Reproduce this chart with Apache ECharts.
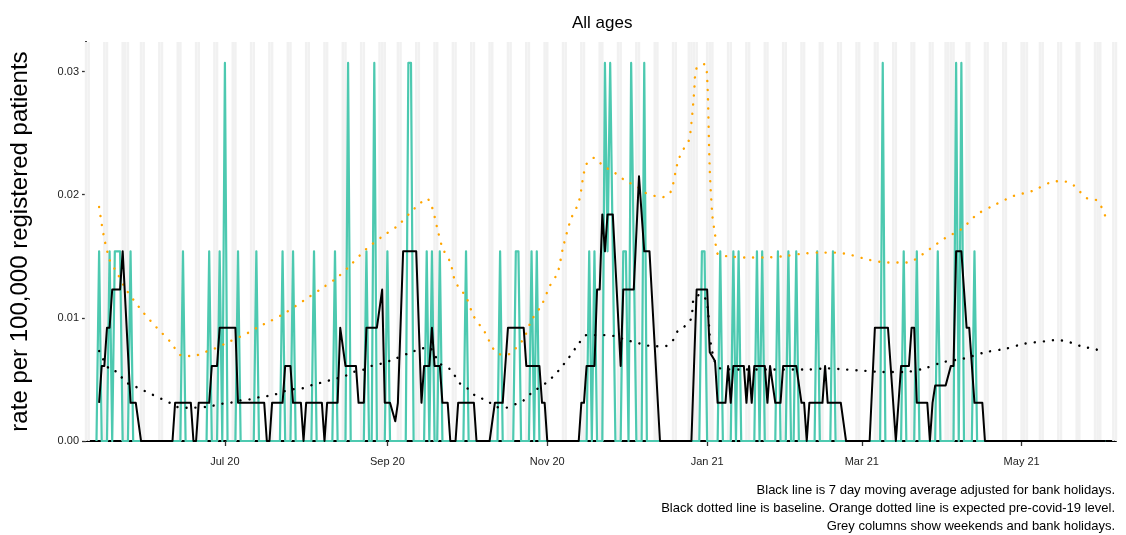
<!DOCTYPE html>
<html>
<head>
<meta charset="utf-8">
<title>All ages</title>
<script src="https://cdn.jsdelivr.net/npm/echarts@6/dist/echarts.min.js"></script>
<style>
  html, body { margin: 0; padding: 0; background: #fff; }
  #chart { width: 1126px; height: 535px; }
</style>
</head>
<body>
<div id="chart"></div>
<script>
// x axis runs over these days, ticks on the first of every other month
const axisStart = '2020-05-09'
const axisEnd = '2021-06-06'
const tickDays = ['2020-07-01', '2020-09-01', '2020-11-01', '2021-01-01', '2021-03-01', '2021-05-01']
const yTicks = [0, 0.01, 0.02, 0.03]
const yMax = 0.0324

// grey columns: weekends plus these bank holidays
const bankHolidays = ['2020-05-25', '2020-08-31', '2020-12-25', '2020-12-28', '2021-01-01',
  '2021-04-02', '2021-04-05', '2021-05-03', '2021-05-31']

// daily rate (teal), days not listed are 0
const dailyStart = '2020-05-13'
const dailyEnd = '2021-06-02'
const dailyRate = [
  ['2020-05-14', 0.0154], ['2020-05-18', 0.0154], ['2020-05-20', 0.0154], ['2020-05-21', 0.0154],
  ['2020-05-22', 0.0154], ['2020-05-26', 0.0154], ['2020-06-15', 0.0154], ['2020-06-25', 0.0154],
  ['2020-06-29', 0.0154], ['2020-07-01', 0.0307], ['2020-07-06', 0.0154], ['2020-07-13', 0.0154],
  ['2020-07-23', 0.0154], ['2020-07-27', 0.0154], ['2020-08-04', 0.0154], ['2020-08-12', 0.0154],
  ['2020-08-17', 0.0307], ['2020-08-24', 0.0154], ['2020-08-27', 0.0307], ['2020-09-01', 0.0154],
  ['2020-09-09', 0.0307], ['2020-09-10', 0.0307], ['2020-09-16', 0.0154], ['2020-09-18', 0.0154],
  ['2020-09-21', 0.0154], ['2020-10-01', 0.0154], ['2020-10-14', 0.0154], ['2020-10-20', 0.0154],
  ['2020-10-21', 0.0154], ['2020-10-26', 0.0154], ['2020-10-28', 0.0154], ['2020-11-17', 0.0154],
  ['2020-11-19', 0.0154], ['2020-11-23', 0.0307], ['2020-11-24', 0.0154], ['2020-11-25', 0.0307],
  ['2020-11-26', 0.0154], ['2020-11-30', 0.0154], ['2020-12-01', 0.0154], ['2020-12-03', 0.0307],
  ['2020-12-04', 0.0154], ['2020-12-08', 0.0307], ['2020-12-30', 0.0154], ['2020-12-31', 0.0154],
  ['2021-01-06', 0.0154], ['2021-01-11', 0.0154], ['2021-01-13', 0.0154], ['2021-01-20', 0.0154],
  ['2021-01-22', 0.0154], ['2021-01-28', 0.0154], ['2021-02-01', 0.0154], ['2021-02-04', 0.0154],
  ['2021-02-12', 0.0154], ['2021-02-18', 0.0154], ['2021-03-09', 0.0307], ['2021-03-17', 0.0154],
  ['2021-03-22', 0.0154], ['2021-03-30', 0.0154], ['2021-04-06', 0.0307], ['2021-04-08', 0.0307],
  ['2021-04-13', 0.0154]
]

// 7 day moving average (black), read where the line bends
const movingAvg = [
  ['2020-05-14', 0.0031], ['2020-05-15', 0.0061], ['2020-05-16', 0.0061], ['2020-05-17', 0.0092],
  ['2020-05-18', 0.0092], ['2020-05-19', 0.0123], ['2020-05-22', 0.0123], ['2020-05-23', 0.0154],
  ['2020-05-26', 0.0031], ['2020-05-28', 0.0031], ['2020-05-30', 0], ['2020-06-11', 0],
  ['2020-06-12', 0.0031], ['2020-06-18', 0.0031], ['2020-06-19', 0], ['2020-06-20', 0],
  ['2020-06-21', 0.0031], ['2020-06-25', 0.0031], ['2020-06-26', 0.0061], ['2020-06-28', 0.0061],
  ['2020-06-29', 0.0092], ['2020-07-05', 0.0092], ['2020-07-06', 0.0031], ['2020-07-16', 0.0031],
  ['2020-07-17', 0], ['2020-07-18', 0], ['2020-07-19', 0.0031], ['2020-07-23', 0.0031],
  ['2020-07-24', 0.0061], ['2020-07-26', 0.0061], ['2020-07-27', 0.0031], ['2020-07-30', 0.0031],
  ['2020-07-31', 0], ['2020-08-01', 0.0031], ['2020-08-07', 0.0031], ['2020-08-08', 0],
  ['2020-08-09', 0.0031], ['2020-08-13', 0.0031], ['2020-08-14', 0.0092], ['2020-08-16', 0.0061],
  ['2020-08-20', 0.0061], ['2020-08-21', 0.0031], ['2020-08-23', 0.0031], ['2020-08-24', 0.0092],
  ['2020-08-28', 0.0092], ['2020-08-30', 0.0123], ['2020-08-31', 0.0031], ['2020-09-02', 0.0031],
  ['2020-09-04', 0.0016], ['2020-09-05', 0.0031], ['2020-09-07', 0.0154], ['2020-09-12', 0.0154],
  ['2020-09-14', 0.0031], ['2020-09-15', 0.0061], ['2020-09-17', 0.0061], ['2020-09-18', 0.0092],
  ['2020-09-19', 0.0061], ['2020-09-21', 0.0061], ['2020-09-22', 0.0031], ['2020-09-24', 0.0031],
  ['2020-09-25', 0], ['2020-09-27', 0], ['2020-09-28', 0.0031], ['2020-10-04', 0.0031],
  ['2020-10-05', 0], ['2020-10-10', 0], ['2020-10-12', 0.0031], ['2020-10-15', 0.0031],
  ['2020-10-17', 0.0092], ['2020-10-23', 0.0092], ['2020-10-24', 0.0061], ['2020-10-29', 0.0061],
  ['2020-10-30', 0.0031], ['2020-10-31', 0.0031], ['2020-11-01', 0], ['2020-11-13', 0],
  ['2020-11-14', 0.0031], ['2020-11-15', 0.0031], ['2020-11-16', 0.0061], ['2020-11-19', 0.0061],
  ['2020-11-20', 0.0123], ['2020-11-21', 0.0123], ['2020-11-22', 0.0184], ['2020-11-23', 0.0154],
  ['2020-11-24', 0.0184], ['2020-11-26', 0.0184], ['2020-11-29', 0.0061], ['2020-11-30', 0.0123],
  ['2020-12-04', 0.0123], ['2020-12-06', 0.0215], ['2020-12-08', 0.0154], ['2020-12-10', 0.0154],
  ['2020-12-14', 0], ['2020-12-26', 0], ['2020-12-28', 0.0123], ['2021-01-01', 0.0123],
  ['2021-01-02', 0.0072], ['2021-01-04', 0.0065], ['2021-01-05', 0.0031], ['2021-01-08', 0.0031],
  ['2021-01-09', 0.0061], ['2021-01-10', 0.0031], ['2021-01-11', 0.0061], ['2021-01-15', 0.0061],
  ['2021-01-16', 0.0031], ['2021-01-17', 0.0061], ['2021-01-18', 0.0031], ['2021-01-19', 0.0061],
  ['2021-01-23', 0.0061], ['2021-01-24', 0.0031], ['2021-01-25', 0.0061], ['2021-01-27', 0.0031],
  ['2021-01-29', 0.0031], ['2021-01-30', 0.0061], ['2021-02-04', 0.0061], ['2021-02-06', 0.0031],
  ['2021-02-07', 0.0031], ['2021-02-08', 0], ['2021-02-09', 0.0031], ['2021-02-14', 0.0031],
  ['2021-02-15', 0.0061], ['2021-02-16', 0.0031], ['2021-02-21', 0.0031], ['2021-02-23', 0],
  ['2021-03-04', 0], ['2021-03-06', 0.0092], ['2021-03-11', 0.0092], ['2021-03-14', 0],
  ['2021-03-16', 0.0061], ['2021-03-19', 0.0061], ['2021-03-20', 0.0092], ['2021-03-21', 0.0092],
  ['2021-03-22', 0.0031], ['2021-03-26', 0.0031], ['2021-03-27', 0], ['2021-03-28', 0.0031],
  ['2021-03-29', 0.0045], ['2021-04-02', 0.0045], ['2021-04-04', 0.0061], ['2021-04-05', 0.0061],
  ['2021-04-06', 0.0154], ['2021-04-08', 0.0154], ['2021-04-10', 0.0092], ['2021-04-11', 0.0092],
  ['2021-04-13', 0.0031], ['2021-04-16', 0.0031], ['2021-04-17', 0], ['2021-06-02', 0]
]

// baseline (black dotted)
const baseline = [
  ['2020-05-14', 0.0073], ['2020-05-18', 0.0058], ['2020-05-21', 0.0056], ['2020-05-24', 0.0048],
  ['2020-05-27', 0.0045], ['2020-05-31', 0.0041], ['2020-06-03', 0.0038], ['2020-06-07', 0.0034],
  ['2020-06-10', 0.0031], ['2020-06-14', 0.0027], ['2020-06-18', 0.0027], ['2020-06-25', 0.0028],
  ['2020-06-29', 0.0030], ['2020-07-03', 0.0031], ['2020-07-07', 0.0033], ['2020-07-11', 0.0034],
  ['2020-07-15', 0.0036], ['2020-07-19', 0.0037], ['2020-07-23', 0.0040], ['2020-07-27', 0.0042],
  ['2020-07-31', 0.0043], ['2020-08-04', 0.0046], ['2020-08-08', 0.0048], ['2020-08-11', 0.0050],
  ['2020-08-15', 0.0052], ['2020-08-19', 0.0056], ['2020-08-23', 0.0058], ['2020-08-26', 0.0061],
  ['2020-08-30', 0.0063], ['2020-09-03', 0.0066], ['2020-09-10', 0.0072], ['2020-09-14', 0.0075],
  ['2020-09-17', 0.0076], ['2020-09-19', 0.0070], ['2020-09-21', 0.0063], ['2020-09-25', 0.0058],
  ['2020-09-29', 0.0046], ['2020-10-02', 0.0042], ['2020-10-05', 0.0036], ['2020-10-09', 0.0033],
  ['2020-10-12', 0.0028], ['2020-10-16', 0.0027], ['2020-10-20', 0.0030], ['2020-10-23', 0.0033],
  ['2020-10-26', 0.0039], ['2020-11-01', 0.0048], ['2020-11-04', 0.0054], ['2020-11-06', 0.0059],
  ['2020-11-09', 0.0067], ['2020-11-13', 0.0079], ['2020-11-16', 0.0086], ['2020-11-23', 0.0086],
  ['2020-11-27', 0.0085], ['2020-12-01', 0.0082], ['2020-12-05', 0.0080], ['2020-12-08', 0.0078],
  ['2020-12-12', 0.0077], ['2020-12-16', 0.0077], ['2020-12-19', 0.0082], ['2020-12-21', 0.0090],
  ['2020-12-24', 0.0094], ['2020-12-26', 0.0100], ['2020-12-27', 0.0116], ['2020-12-30', 0.0119],
  ['2021-01-01', 0.0111], ['2021-01-02', 0.0085], ['2021-01-03', 0.0072], ['2021-01-04', 0.0064],
  ['2021-01-06', 0.0059], ['2021-01-14', 0.0058], ['2021-01-24', 0.0058], ['2021-02-08', 0.0058],
  ['2021-02-16', 0.0059], ['2021-02-23', 0.0058], ['2021-03-02', 0.0057], ['2021-03-09', 0.0056],
  ['2021-03-17', 0.0056], ['2021-03-25', 0.0059], ['2021-04-01', 0.0064], ['2021-04-09', 0.0067],
  ['2021-04-17', 0.0072], ['2021-04-25', 0.0075], ['2021-05-02', 0.0079], ['2021-05-10', 0.0081],
  ['2021-05-14', 0.0082], ['2021-05-18', 0.0081], ['2021-05-21', 0.0079], ['2021-05-25', 0.0076],
  ['2021-05-29', 0.0075], ['2021-06-01', 0.0070]
]

// expected pre-covid-19 level (orange dotted)
const expected = [
  ['2020-05-14', 0.0190], ['2020-05-15', 0.0176], ['2020-05-16', 0.0164], ['2020-05-17', 0.0155],
  ['2020-05-18', 0.0147], ['2020-05-21', 0.0136], ['2020-05-24', 0.0124], ['2020-05-27', 0.0115],
  ['2020-05-31', 0.0104], ['2020-06-05', 0.0092], ['2020-06-10', 0.0081], ['2020-06-15', 0.0069],
  ['2020-06-19', 0.0069], ['2020-06-23', 0.0072], ['2020-06-27', 0.0075], ['2020-07-03', 0.0081],
  ['2020-07-10', 0.0088], ['2020-07-14', 0.0093], ['2020-07-18', 0.0097], ['2020-07-24', 0.0104],
  ['2020-07-31', 0.0114], ['2020-08-07', 0.0124], ['2020-08-13', 0.0133], ['2020-08-18', 0.0143],
  ['2020-08-24', 0.0156], ['2020-08-30', 0.0166], ['2020-09-05', 0.0175], ['2020-09-10', 0.0186],
  ['2020-09-13', 0.0192], ['2020-09-16', 0.0197], ['2020-09-18', 0.0190], ['2020-09-20', 0.0173],
  ['2020-09-22', 0.0157], ['2020-09-25', 0.0145], ['2020-09-27', 0.0129], ['2020-10-01', 0.0117],
  ['2020-10-04', 0.0101], ['2020-10-08', 0.0089], ['2020-10-12', 0.0073], ['2020-10-15', 0.0070],
  ['2020-10-18', 0.0071], ['2020-10-21', 0.0078], ['2020-10-23', 0.0083], ['2020-10-26', 0.0098],
  ['2020-10-30', 0.0111], ['2020-11-02', 0.0126], ['2020-11-05', 0.0137], ['2020-11-07', 0.0157],
  ['2020-11-10', 0.0180], ['2020-11-13', 0.0194], ['2020-11-15', 0.0218], ['2020-11-16', 0.0225],
  ['2020-11-19', 0.0230], ['2020-11-22', 0.0224], ['2020-11-25', 0.0220], ['2020-11-28', 0.0216],
  ['2020-12-01', 0.0211], ['2020-12-05', 0.0207], ['2020-12-08', 0.0202], ['2020-12-12', 0.0199],
  ['2020-12-15', 0.0198], ['2020-12-18', 0.0202], ['2020-12-20', 0.0219], ['2020-12-21', 0.0228],
  ['2020-12-23', 0.0237], ['2020-12-25', 0.0244], ['2020-12-26', 0.0258], ['2020-12-27', 0.0282],
  ['2020-12-28', 0.0303], ['2020-12-31', 0.0306], ['2021-01-01', 0.0295], ['2021-01-02', 0.0220],
  ['2021-01-03', 0.0183], ['2021-01-04', 0.0168], ['2021-01-05', 0.0152], ['2021-01-09', 0.0150],
  ['2021-01-16', 0.0149], ['2021-01-23', 0.0149], ['2021-01-30', 0.0150], ['2021-02-06', 0.0152],
  ['2021-02-13', 0.0153], ['2021-02-19', 0.0153], ['2021-02-25', 0.0151], ['2021-03-04', 0.0147],
  ['2021-03-11', 0.0145], ['2021-03-18', 0.0145], ['2021-03-21', 0.0147], ['2021-03-27', 0.0156],
  ['2021-04-02', 0.0165], ['2021-04-08', 0.0172], ['2021-04-14', 0.0184], ['2021-04-21', 0.0192],
  ['2021-04-28', 0.0199], ['2021-05-05', 0.0203], ['2021-05-12', 0.0210], ['2021-05-16', 0.0211],
  ['2021-05-20', 0.0209], ['2021-05-26', 0.0197], ['2021-05-30', 0.0195], ['2021-06-02', 0.0182]
]

const monthNames = ['Jan', 'Feb', 'Mar', 'Apr', 'May', 'Jun', 'Jul', 'Aug', 'Sep', 'Oct', 'Nov', 'Dec']
const captionLines = [
  'Black line is 7 day moving average adjusted for bank holidays.',
  'Black dotted line is baseline. Orange dotted line is expected pre-covid-19 level.',
  'Grey columns show weekends and bank holidays.'
]
const font = 'Liberation Sans, Arial, sans-serif'

// list of every day on the axis
function dayList(from, to) {
  const out = []
  let t = Date.parse(from + 'T00:00:00Z')
  const end = Date.parse(to + 'T00:00:00Z')
  while (t <= end) {
    out.push(new Date(t).toISOString().slice(0, 10))
    t += 86400000
  }
  return out
}

const days = dayList(axisStart, axisEnd)

const offDays = days.map(d => {
  const wd = new Date(d + 'T00:00:00Z').getUTCDay()
  return (wd === 0 || wd === 6 || bankHolidays.includes(d)) ? yMax : '-'
})

const rateByDay = {}
dailyRate.forEach(([d, v]) => { rateByDay[d] = v })
const dailySeries = dayList(dailyStart, dailyEnd).map(d => [d, rateByDay[d] || 0])

const isTick = (i, v) => tickDays.includes(v)

// caption: one right aligned text per line
const captionText = captionLines.map((line, i) => ({
  type: 'text',
  right: 11,
  top: 484 + i * 18,
  style: { text: line, font: '13px ' + font, fill: '#000' }
}))

const chart = echarts.init(document.getElementById('chart'))
chart.setOption({
  animation: false,
  textStyle: { fontFamily: font },
  title: {
    text: 'All ages',
    left: 567,
    top: 10,
    textStyle: { fontSize: 17, fontWeight: 'normal', color: '#000', fontFamily: font }
  },
  graphic: captionText,
  grid: { left: 85, right: 10, top: 42, bottom: 94 },
  xAxis: {
    type: 'category',
    data: days,
    boundaryGap: false,
    axisLine: { lineStyle: { color: '#000', width: 2 } },
    axisTick: { interval: isTick, length: 5, lineStyle: { color: '#333', width: 1.3 } },
    axisLabel: {
      interval: isTick,
      margin: 15,
      fontSize: 11,
      color: '#222',
      formatter: v => monthNames[+v.slice(5, 7) - 1] + ' ' + v.slice(2, 4)
    },
    splitLine: { show: false }
  },
  yAxis: {
    type: 'value',
    min: 0,
    max: yMax,
    name: 'rate per 100,000 registered patients',
    nameLocation: 'middle',
    nameGap: 54,
    nameTextStyle: { fontSize: 24, color: '#000' },
    axisLine: { show: true, lineStyle: { color: '#000', width: 2 } },
    axisTick: { show: true, customValues: yTicks, length: 4, lineStyle: { color: '#333', width: 1.3 } },
    axisLabel: { customValues: yTicks, fontSize: 11, color: '#222', margin: 7, formatter: v => v.toFixed(2) },
    splitLine: { show: false }
  },
  series: [
    {
      name: 'weekends',
      type: 'bar',
      data: offDays,
      barWidth: '96%',
      silent: true,
      itemStyle: { color: '#F1F1F1' }
    },
    {
      name: 'daily',
      type: 'line',
      data: dailySeries,
      symbol: 'none',
      lineStyle: { color: '#4DC9B0', width: 2.2, join: 'round' }
    },
    {
      name: 'expected',
      type: 'line',
      data: expected,
      symbol: 'none',
      smooth: 0.3,
      lineStyle: { color: '#FFA500', width: 2.4, type: [0.1, 9], cap: 'round' }
    },
    {
      name: 'baseline',
      type: 'line',
      data: baseline,
      symbol: 'none',
      smooth: 0.3,
      lineStyle: { color: '#000', width: 2.4, type: [0.1, 9], cap: 'round' }
    },
    {
      name: 'moving average',
      type: 'line',
      data: movingAvg,
      symbol: 'none',
      lineStyle: { color: '#000', width: 2, join: 'round' }
    }
  ]
})
</script>
</body>
</html>
